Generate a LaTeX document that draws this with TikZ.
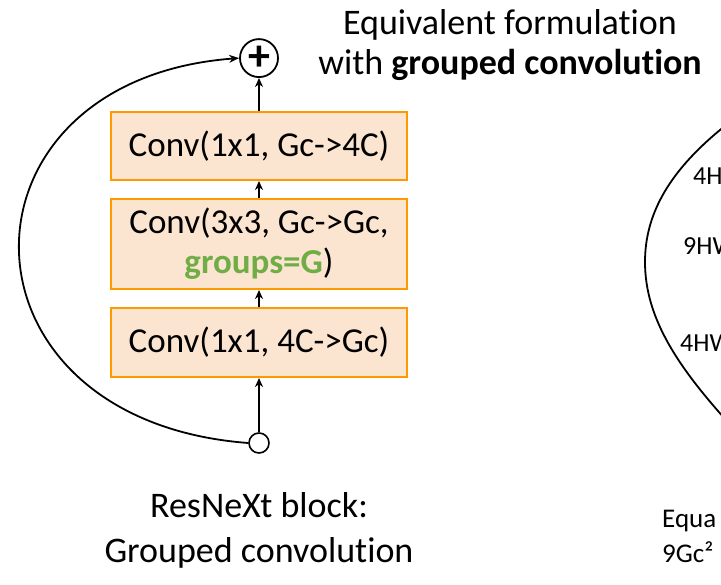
\documentclass[tikz,border=0pt]{standalone}
\usepackage{xcolor}
\usepackage{fontspec}
\setmainfont{Carlito}[Ligatures=NoCommon]
\usepackage{tikz}
\usetikzlibrary{shapes,arrows,arrows.meta,positioning,calc}
\definecolor{convfill}{RGB}{252,229,208}
\definecolor{convedge}{RGB}{255,153,0}
\definecolor{groupgreen}{RGB}{112,173,71}
\tikzstyle{convbox} = [rectangle, minimum width=296pt, text centered, align=center, draw=convedge, line width=2pt, fill=convfill, font=\fontsize{35}{40}\selectfont]
\tikzstyle{sumnode} = [circle, minimum size=38pt, inner sep=0pt, draw=black, line width=1.8pt, font=\fontsize{44}{44}\selectfont\bfseries]
\tikzstyle{splitnode} = [circle, minimum size=20pt, inner sep=0pt, draw=black, line width=1.6pt, fill=white]
\tikzstyle{label} = [align=center, font=\fontsize{36}{40}\selectfont]
\tikzstyle{rtext} = [anchor=base west, inner sep=0pt, font=\fontsize{26}{30}\selectfont]
\tikzstyle{arrow} = [line width=2.6pt,->,>={Stealth[length=9pt,width=8pt]}]
\tikzstyle{skip} = [line width=1.8pt,->,>={Stealth[length=10pt,width=8pt]}]

\begin{document}
\begin{tikzpicture}[x=1pt,y=-1pt]
	\useasboundingbox (0,0) rectangle (721,585);
	\clip (0,0) rectangle (721,585);
	% ResNeXt block
	\node (conv3) [convbox, minimum height=69pt] at (259,342.5) {Conv(1x1, 4C->Gc)};
	\node (conv2) [convbox, minimum height=90pt, above=17pt of conv3] {Conv(3x3, Gc->Gc,\\\textcolor{groupgreen}{\textbf{groups=G}})};
	\node (conv1) [convbox, minimum height=68pt, above=17pt of conv2] {Conv(1x1, Gc->4C)};
	\node (sum) [sumnode, above=33pt of conv1] {+};
	\node (split) [splitnode] at (259,443) {};

	\draw [arrow] (split) -- (conv3);
	\draw [arrow] (conv3) -- (conv2);
	\draw [arrow] (conv2) -- (conv1);
	\draw [arrow] (conv1) -- (sum);
	\draw [skip] (split.west) .. controls (-55,420) and (-55,80) .. (sum.west);

	\node (caption) [label, font=\fontsize{36}{45}\selectfont] at (259,530) {ResNeXt block:\\Grouped convolution};
	\node (title) [label] at (510,45) {Equivalent formulation\\with \textbf{grouped convolution}};

	% second block, cut off at the right edge
	\coordinate (rsum) at (730,122);
	\coordinate (rsplit) at (735,430);
	\draw [line width=1.8pt] (rsum) .. controls (668,170) and (645,215) .. (645,262) .. controls (645,320) and (680,370) .. (rsplit);
	\node (rconv1) [rtext] at (693,185) {4HW};
	\node (rconv2) [rtext] at (683,255) {9HW};
	\node (rconv3) [rtext] at (680,352) {4HW};
	\node (rnote1) [rtext, font=\fontsize{27}{30}\selectfont] at (662,528) {Equa};
	\node (rnote2) [rtext, font=\fontsize{27}{30}\selectfont] at (662,562) {9Gc²};
\end{tikzpicture}
\end{document}
